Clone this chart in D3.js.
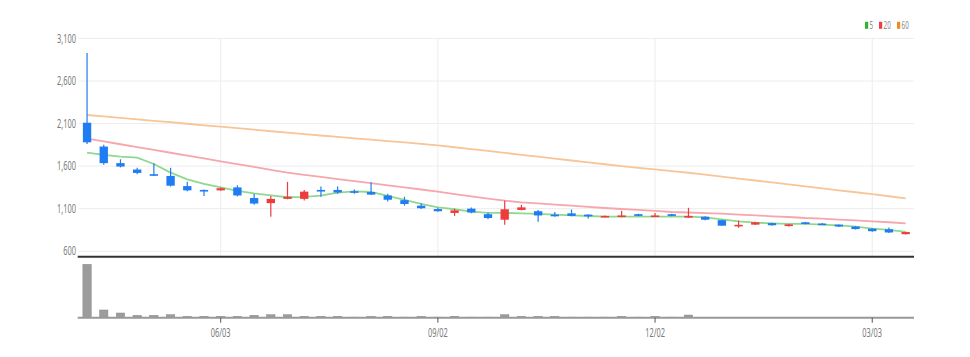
<!DOCTYPE html>
<html><head><meta charset="utf-8">
<script src="https://cdn.jsdelivr.net/npm/d3@7/dist/d3.min.js"></script>
<style>html,body{margin:0;padding:0;background:#fff;}svg{display:block;}</style>
</head><body>
<script>
const dates = ["2024-04-08","2024-04-15","2024-04-22","2024-04-29","2024-05-06","2024-05-13","2024-05-20","2024-05-27","2024-06-03","2024-06-10","2024-06-17","2024-06-24","2024-07-01","2024-07-08","2024-07-15","2024-07-22","2024-07-29","2024-08-05","2024-08-12","2024-08-19","2024-08-26","2024-09-02","2024-09-09","2024-09-16","2024-09-23","2024-09-30","2024-10-07","2024-10-14","2024-10-21","2024-10-28","2024-11-04","2024-11-11","2024-11-18","2024-11-25","2024-12-02","2024-12-09","2024-12-16","2024-12-23","2024-12-30","2025-01-06","2025-01-13","2025-01-20","2025-01-27","2025-02-03","2025-02-10","2025-02-17","2025-02-24","2025-03-03","2025-03-10","2025-03-17"];
const open  = [2110,1830,1635,1560,1505,1485,1365,1320,1315,1350,1225,1165,1215,1215,1320,1320,1305,1295,1255,1200,1135,1095,1050,1100,1035,970,1085,1070,1030,1045,1030,1005,1005,1035,1010,1035,995,1005,965,895,912,930,895,940,925,912,890,865,858,800];
const high  = [2930,1850,1680,1580,1635,1580,1415,1325,1350,1375,1275,1250,1415,1320,1360,1360,1325,1410,1275,1240,1165,1110,1100,1115,1055,1195,1145,1085,1060,1090,1035,1020,1075,1040,1050,1040,1110,1010,970,960,945,935,920,945,930,915,895,870,880,830];
const low   = [1860,1615,1585,1505,1485,1360,1305,1250,1310,1245,1145,1005,1210,1195,1240,1275,1275,1260,1185,1135,1095,1065,1015,1045,975,910,1080,945,1005,1010,985,1000,1000,1010,1005,1010,990,965,895,875,910,900,890,915,910,885,855,830,815,795];
const close = [1880,1635,1595,1520,1490,1370,1315,1305,1340,1255,1160,1215,1240,1300,1305,1290,1290,1265,1205,1155,1105,1070,1080,1055,990,1093,1115,1020,1010,1015,1010,1015,1020,1015,1020,1015,1015,970,900,910,940,905,915,920,912,890,860,835,820,825];
const volume = [4000,577,352,180,180,225,105,105,105,105,180,225,225,105,105,105,40,105,105,40,105,40,105,40,40,225,105,105,105,40,40,40,105,40,105,40,200,35,35,35,35,35,35,35,35,35,35,35,35,35];
const ma5  = [1758,1731,1711,1699,1625,1523,1445,1390,1351,1308,1280,1257,1234,1238,1253,1288,1304,1296,1249,1202,1155,1116,1093,1065,1050,1050,1045,1038,1030,1022,1014,1006,1006,1006,1006,1006,1006,998,975,951,935,928,920,920,912,904,889,866,850,826];
const ma20 = [1922,1890,1857,1823,1790,1757,1723,1690,1657,1623,1590,1557,1523,1498,1473,1448,1424,1399,1374,1350,1325,1300,1272,1245,1218,1194,1175,1163,1147,1135,1120,1108,1096,1085,1073,1061,1055,1047,1041,1030,1022,1010,1002,990,983,971,963,951,940,928];
const ma60 = [2201,2185,2168,2150,2133,2116,2098,2080,2063,2046,2028,2010,1993,1977,1960,1944,1927,1911,1894,1878,1861,1843,1822,1800,1778,1756,1733,1711,1689,1666,1644,1622,1600,1580,1562,1542,1522,1500,1477,1454,1431,1408,1385,1362,1339,1316,1293,1270,1246,1222];
const yTicks = [600,1100,1600,2100,2600,3100];
const xTickDates = ["2024-06-03","2024-09-02","2024-12-02","2025-03-03"];
const xTickLabels = ["06/03","09/02","12/02","03/03"];
const maNames = ["5","20","60"];

const W = 970, H = 357;
const left = 78.7, right = 914;
const priceTop = 30, priceBottom = 256.7;
const volBase = 317.7, volTop = 264.3;
const UP = "#ee3b3b", DOWN = "#1f7cf2";
const maColors = ["#2db52d","#f03c47","#f08a24"];
const maLineColors = ["#8fd88f","#f6a6ad","#f8c597"];
const SQ = 0.62;

const svg = d3.select("body").append("svg").attr("width", W).attr("height", H);

const x = d3.scaleBand().domain(dates).range([left, right]).padding(0);
const bw = x.bandwidth();
const cx = d => x(d) + bw / 2;
const y = d3.scaleLinear().domain([600, 3100]).range([251.2, 38.5]);
const yv = d3.scaleLinear().domain([0, d3.max(volume)]).range([volBase, volTop]);

// grid
svg.append("g").selectAll("line").data(yTicks).join("line")
  .attr("x1", left).attr("x2", right).attr("y1", d => y(d)).attr("y2", d => y(d))
  .attr("stroke", "#ededed").attr("stroke-width", 1);
svg.append("g").selectAll("line").data(xTickDates).join("line")
  .attr("x1", d => cx(d)).attr("x2", d => cx(d)).attr("y1", y(3100)).attr("y2", priceBottom)
  .attr("stroke", "#ededed").attr("stroke-width", 1);

// y labels
svg.append("g").selectAll("text").data(yTicks).join("text")
  .attr("transform", d => `translate(76,${y(d)}) scale(${SQ},1)`)
  .attr("text-anchor", "end").attr("dy", "0.35em")
  .attr("font-family", "Noto Sans, sans-serif").attr("font-size", 12).attr("fill", "#7a7a7a")
  .text(d => d3.format(",")(d));

// MA lines
[ma60, ma20, ma5].forEach((arr, k) => {
  const idx = 2 - k;
  svg.append("path").datum(arr)
    .attr("d", d3.line().x((v, i) => cx(dates[i])).y(v => y(v)))
    .attr("fill", "none").attr("stroke", maLineColors[idx]).attr("stroke-width", 1.8);
});

// candles
const cw = bw * 0.5;
const cg = svg.append("g");
dates.forEach((d, i) => {
  const col = close[i] >= open[i] ? UP : DOWN;
  cg.append("line").attr("x1", cx(d)).attr("x2", cx(d))
    .attr("y1", y(high[i])).attr("y2", y(low[i])).attr("stroke", col).attr("stroke-width", 1.2);
  const yt = y(Math.max(open[i], close[i])), yb = y(Math.min(open[i], close[i]));
  cg.append("rect").attr("x", cx(d) - cw / 2).attr("width", cw)
    .attr("y", yt).attr("height", Math.max(1.6, yb - yt)).attr("fill", col);
});

// pane separator
svg.append("line").attr("x1", left - 1).attr("x2", right).attr("y1", priceBottom).attr("y2", priceBottom)
  .attr("stroke", "#333").attr("stroke-width", 2);

// volume
svg.append("g").selectAll("rect").data(dates).join("rect")
  .attr("x", d => cx(d) - cw / 2).attr("width", cw)
  .attr("y", (d, i) => yv(volume[i])).attr("height", (d, i) => volBase - yv(volume[i]))
  .attr("fill", "#9c9c9c").attr("stroke", "#8a8a8a").attr("stroke-width", 0.5);
svg.append("line").attr("x1", left - 1).attr("x2", right).attr("y1", volBase).attr("y2", volBase)
  .attr("stroke", "#999").attr("stroke-width", 2);

// x ticks
svg.append("g").selectAll("line").data(xTickDates).join("line")
  .attr("x1", d => cx(d)).attr("x2", d => cx(d)).attr("y1", volBase).attr("y2", volBase + 5)
  .attr("stroke", "#555").attr("stroke-width", 1);
svg.append("g").selectAll("text").data(xTickDates).join("text")
  .attr("transform", d => `translate(${cx(d)},337) scale(${SQ},1)`)
  .attr("text-anchor", "middle")
  .attr("font-family", "Noto Sans, sans-serif").attr("font-size", 12).attr("fill", "#7a7a7a")
  .text((d, i) => xTickLabels[i]);

// legend
const lg = svg.append("g");
const lx = [865, 879, 897];
maNames.forEach((n, i) => {
  lg.append("rect").attr("x", lx[i]).attr("y", 21.8).attr("width", 3.2).attr("height", 7).attr("fill", maColors[i]);
  lg.append("text").attr("transform", `translate(${lx[i] + 4.6},29) scale(0.6,1)`)
    .attr("font-family", "Noto Sans, sans-serif").attr("font-size", 10.5).attr("fill", "#888").text(n);
});
</script>
</body></html>
